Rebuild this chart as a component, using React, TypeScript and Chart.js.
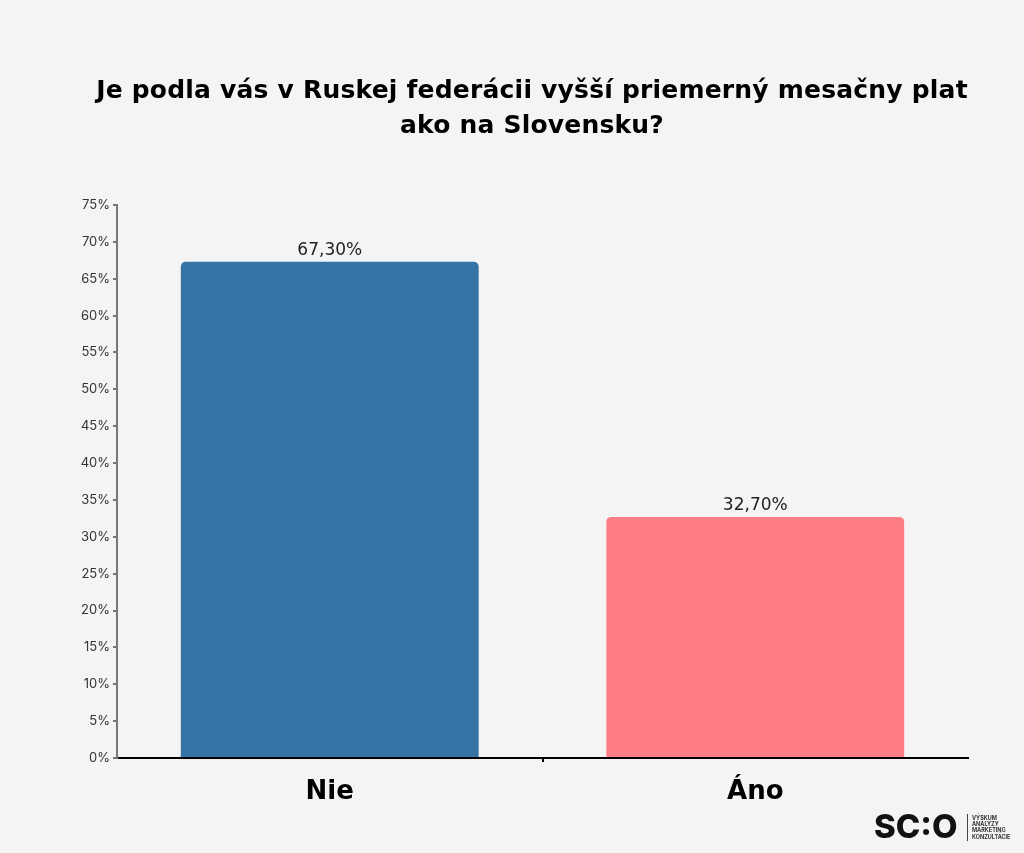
import React, { useEffect, useRef } from "react";
import { Chart, registerables } from "chart.js";

Chart.register(...registerables);

const TITLE_LINES = [
  "Je podla vás v Ruskej federácii vyšší priemerný mesačny plat",
  "ako na Slovensku?",
];
const CATEGORIES = ["Nie", "Áno"];
const VALUES = [67.3, 32.7];
const BAR_COLORS = ["#3474a6", "#ff7e86"];
const Y_MAX = 75;
const Y_STEP = 5;
const LOGO_MAIN = "SC:O";
const LOGO_LINES = ["VÝSKUM", "ANALÝZY", "MARKETING", "KONZULTÁCIE"];

const FONT = "Inter, 'Open Sans', sans-serif";
const WIDE = "'DejaVu Sans', sans-serif";

const fmt = (v: number) => v.toFixed(2).replace(".", ",") + "%";

export default function App() {
  const ref = useRef<HTMLCanvasElement | null>(null);

  useEffect(() => {
    document.body.style.margin = "0";
    document.body.style.background = "#f4f4f4";
    const canvas = ref.current!;
    const bgPlugin = {
      id: "bg",
      beforeDraw(chart: any) {
        const { ctx, width, height } = chart;
        ctx.save();
        ctx.fillStyle = "#f4f4f4";
        ctx.fillRect(0, 0, width, height);
        ctx.restore();
      },
    };
    const titlePlugin = {
      id: "customTitle",
      afterDraw(chart: any) {
        const { ctx } = chart;
        ctx.save();
        ctx.font = `700 25px ${WIDE}`;
        (ctx as any).letterSpacing = "0.2px";
        ctx.fillStyle = "#000";
        ctx.textAlign = "center";
        ctx.textBaseline = "middle";
        TITLE_LINES.forEach((t, i) => ctx.fillText(t, 532, 91 + i * 35));
        ctx.restore();
      },
    };
    const labelPlugin = {
      id: "valueLabels",
      afterDatasetsDraw(chart: any) {
        const { ctx } = chart;
        const meta = chart.getDatasetMeta(0);
        ctx.save();
        ctx.font = `400 17px ${WIDE}`;
        ctx.fillStyle = "#222";
        ctx.textAlign = "center";
        ctx.textBaseline = "bottom";
        meta.data.forEach((bar: any, i: number) => {
          ctx.fillText(fmt(VALUES[i]), bar.x, bar.y - 3);
        });
        ctx.restore();
      },
    };
    const logoPlugin = {
      id: "logo",
      afterDraw(chart: any) {
        const { ctx } = chart;
        ctx.save();
        ctx.fillStyle = "#111";
        ctx.font = `800 33px ${FONT}`;
        ctx.textAlign = "left";
        ctx.textBaseline = "middle";
        ctx.fillText(LOGO_MAIN, 874, 828);
        ctx.strokeStyle = "#444";
        ctx.lineWidth = 1;
        ctx.beginPath();
        ctx.moveTo(967.5, 814);
        ctx.lineTo(967.5, 841);
        ctx.stroke();
        ctx.font = `700 5.5px ${FONT}`;
        ctx.fillStyle = "#333";
        LOGO_LINES.forEach((t, i) => ctx.fillText(t, 972, 818 + i * 6.3));
        ctx.restore();
      },
    };

    const chart = new Chart(canvas, {
      type: "bar",
      data: {
        labels: CATEGORIES,
        datasets: [
          {
            data: VALUES,
            backgroundColor: BAR_COLORS,
            borderRadius: 5,
            borderSkipped: "start",
            barPercentage: 0.7,
            categoryPercentage: 1,
          },
        ],
      },
      options: {
        responsive: false,
        animation: false,
        layout: { padding: { left: 57, right: 56, top: 205, bottom: 0 } },
        plugins: {
          legend: { display: false },
          tooltip: { enabled: false },
          title: { display: false },
        },
        scales: {
          x: {
            afterFit(scale: any) {
              scale.height = 95;
            },
            border: { display: true, color: "#000", width: 2 },
            grid: {
              display: true,
              drawOnChartArea: false,
              drawTicks: true,
              tickLength: 4,
              color: (c: any) => (c.index === 1 ? "#000" : "rgba(0,0,0,0)"),
              lineWidth: 2,
            },
            ticks: {
              color: "#000",
              padding: 15,
              font: { family: WIDE, size: 26, weight: "700" },
            },
          },
          y: {
            min: 0,
            max: Y_MAX,
            afterFit(scale: any) {
              scale.width = 60;
            },
            border: { display: true, color: "#777", width: 2 },
            grid: {
              display: true,
              drawOnChartArea: false,
              drawTicks: true,
              tickLength: 4,
              color: "#777",
              lineWidth: 2,
            },
            ticks: {
              stepSize: Y_STEP,
              color: "#333",
              padding: 3,
              font: { family: FONT, size: 13 },
              callback: (v: any) => v + "%",
            },
          },
        },
      },
      plugins: [bgPlugin, labelPlugin, titlePlugin, logoPlugin],
    });
    return () => chart.destroy();
  }, []);

  return (
    <canvas
      ref={ref}
      width={1024}
      height={853}
      style={{ position: "fixed", left: 0, top: 0, width: 1024, height: 853 }}
    />
  );
}
